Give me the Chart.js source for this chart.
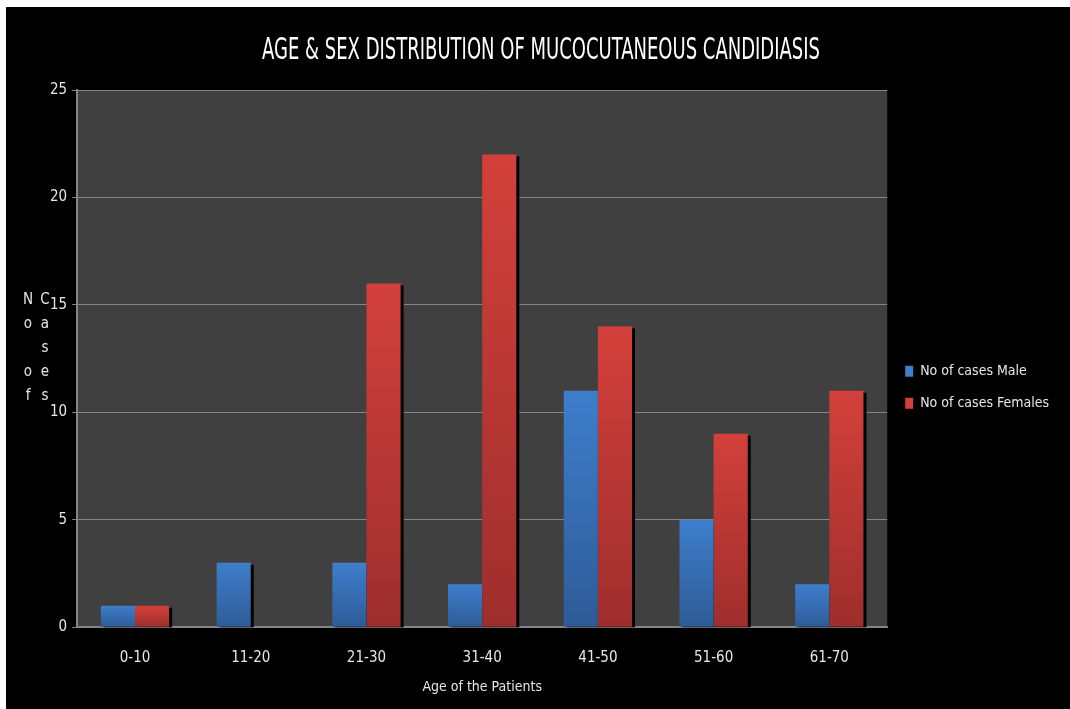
<!DOCTYPE html>
<html>
<head>
<meta charset="utf-8">
<script src="https://cdn.jsdelivr.net/npm/chart.js@4/dist/chart.umd.min.js"></script>
<style>
  html, body { margin: 0; padding: 0; background: #ffffff; }
  #wrap { position: absolute; left: 6px; top: 7px; width: 1064px; height: 702px; background: #000000; }
  canvas { display: block; }
</style>
</head>
<body>
<div id="wrap"><canvas id="c" width="1064" height="702"></canvas></div>
<script>
const ageGroups = ['0-10', '11-20', '21-30', '31-40', '41-50', '51-60', '61-70'];
const maleCases = [1, 3, 3, 2, 11, 5, 2];
const femaleCases = [1, 0, 16, 22, 14, 9, 11];
const seriesNames = ['No of cases Male', 'No of cases Females'];
const chartTitle = 'AGE & SEX DISTRIBUTION OF MUCOCUTANEOUS CANDIDIASIS';
const xAxisTitle = 'Age of the Patients';
const yAxisColumns = [['N', 'o', '', 'o', 'f'], ['C', 'a', 's', 'e', 's']];

const FONT = '"DejaVu Sans Condensed", "Liberation Sans Narrow", sans-serif';
const TEXT = '#e6e6e6';
const GRID = '#858585';

// Per-bar vertical gradient, top colour to bottom colour
function barGradient(top, bottom) {
  return (ctx) => {
    const chart = ctx.chart;
    const area = chart.chartArea;
    if (!area || ctx.parsed === undefined) return top;
    const y = chart.scales.y;
    const y0 = y.getPixelForValue(ctx.parsed.y);
    const y1 = y.getPixelForValue(0);
    if (!(y1 > y0)) return top;
    const g = chart.ctx.createLinearGradient(0, y0, 0, y1);
    g.addColorStop(0, top);
    g.addColorStop(1, bottom);
    return g;
  };
}

// Plot background, narrow heading, bar drop-shadows and stacked axis title
const plotStyle = {
  id: 'plotStyle',
  beforeDraw(chart) {
    const { ctx, chartArea: a } = chart;
    ctx.save();
    ctx.fillStyle = '#404040';
    ctx.fillRect(a.left, a.top, a.right - a.left, a.bottom - a.top);

    // heading, squeezed horizontally into a narrow face
    ctx.font = '30px ' + FONT;
    ctx.fillStyle = '#ffffff';
    ctx.textAlign = 'center';
    ctx.textBaseline = 'middle';
    const headingWidth = 558;
    const sx = headingWidth / ctx.measureText(chartTitle).width;
    ctx.translate(535, 44);
    ctx.scale(sx, 1);
    ctx.fillText(chartTitle, 0, 0);
    ctx.restore();
  },
  beforeDatasetsDraw(chart) {
    // hard black shadow behind every bar, offset right and down
    const { ctx, chartArea: a } = chart;
    ctx.save();
    ctx.beginPath();
    ctx.rect(a.left, a.top, a.right - a.left, a.bottom - a.top);
    ctx.clip();
    ctx.fillStyle = '#000000';
    chart.getSortedVisibleDatasetMetas().forEach((meta) => {
      meta.data.forEach((bar) => {
        const { x, y, base, width } = bar.getProps(['x', 'y', 'base', 'width'], true);
        const h = base - y;
        if (h <= 0) return;
        ctx.fillRect(x - width / 2 + 3, y + 2, width, h);
      });
    });
    ctx.restore();
  },
  afterDraw(chart) {
    const { ctx } = chart;
    ctx.save();
    ctx.fillStyle = TEXT;
    ctx.font = '15px ' + FONT;
    ctx.textAlign = 'center';
    ctx.textBaseline = 'middle';
    const cx = [22, 39];
    const startY = 293;
    const step = 24;
    yAxisColumns.forEach((col, i) => {
      col.forEach((ch, j) => {
        if (ch) ctx.fillText(ch, cx[i], startY + j * step);
      });
    });
    ctx.restore();
  }
};

new Chart(document.getElementById('c'), {
  type: 'bar',
  data: {
    labels: ageGroups,
    datasets: [
      {
        label: seriesNames[0],
        data: maleCases,
        backgroundColor: barGradient('#3e7ecc', '#2e5b97'),
        borderWidth: 0
      },
      {
        label: seriesNames[1],
        data: femaleCases,
        backgroundColor: barGradient('#d3403b', '#9e2e2c'),
        borderWidth: 0
      }
    ]
  },
  plugins: [plotStyle],
  options: {
    responsive: false,
    animation: false,
    devicePixelRatio: 1,
    layout: { padding: { left: 39, right: 11, top: 83, bottom: 13 } },
    datasets: {
      bar: { barPercentage: 1.0, categoryPercentage: 0.59 }
    },
    plugins: {
      title: { display: false },
      legend: {
        position: 'right',
        align: 'center',
        title: {
          display: true,
          text: '',
          font: { family: FONT, size: 12 },
          padding: { top: -26, bottom: 0 }
        },
        labels: {
          color: TEXT,
          font: { family: FONT, size: 14 },
          boxWidth: 8,
          boxHeight: 11,
          padding: 18,
          useBorderRadius: false
        }
      },
      tooltip: { enabled: false }
    },
    scales: {
      x: {
        grid: { display: false, drawTicks: false },
        border: { display: true, color: GRID, width: 2 },
        ticks: { color: TEXT, font: { family: FONT, size: 15 }, padding: 22 },
        title: {
          display: true,
          text: xAxisTitle,
          color: TEXT,
          font: { family: FONT, size: 14 },
          padding: { top: -10, bottom: 0 }
        }
      },
      y: {
        min: 0,
        max: 25,
        ticks: { stepSize: 5, color: TEXT, font: { family: FONT, size: 15 }, padding: 5 },
        grid: { color: GRID, lineWidth: 1, tickLength: 5, tickColor: GRID },
        border: { display: true, color: GRID, width: 2 }
      }
    }
  }
});
</script>
</body>
</html>
